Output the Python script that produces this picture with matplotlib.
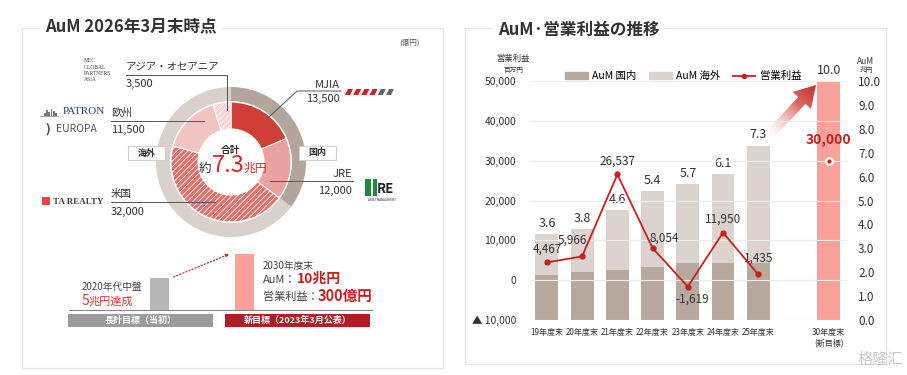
import matplotlib
matplotlib.use('Agg')
import matplotlib.pyplot as plt
import numpy as np
from matplotlib.patches import Rectangle, Polygon, Patch
from matplotlib.lines import Line2D

plt.rcParams['font.family'] = ['Noto Sans CJK JP', 'DejaVu Sans']
plt.rcParams['hatch.linewidth'] = 0.6
plt.rcParams['hatch.color'] = 'white'

# ---- data: AuM breakdown (億円) ----
regions = ['MJIA', 'JRE', '米国', '欧州', 'アジア・オセアニア']
region_values = [13500, 12000, 32000, 11500, 3500]
domestic_total = 13500 + 12000
overseas_total = 32000 + 11500 + 3500

# ---- data: AuM / operating profit history ----
years = ['19年度末', '20年度末', '21年度末', '22年度末', '23年度末', '24年度末', '25年度末']
aum_domestic = [1.9, 2.0, 2.1, 2.2, 2.4, 2.4, 2.4]   # 兆円
aum_total = [3.6, 3.8, 4.6, 5.4, 5.7, 6.1, 7.3]      # 兆円
profit = [4467, 5966, 26537, 8054, -1619, 11950, 1435]  # 百万円
target_label = '30年度末\n(新目標)'
target_aum = 10.0
target_profit = 30000

RED = '#c8201e'
DARK = '#333333'

fig = plt.figure(figsize=(9.07, 3.75), dpi=100)

# ================= donut =================
cx, cy, R = 231, 162, 75
axd = fig.add_axes([(cx - R) / 907, 1 - (cy + R) / 375, 2 * R / 907, 2 * R / 375])
axd.pie([domestic_total, overseas_total], startangle=90, counterclock=False, radius=1,
        colors=['#b3a59c', '#d9d1cc'], wedgeprops=dict(width=14 / 75, linewidth=0))
axd.pie(region_values, startangle=90, counterclock=False, radius=60 / 75,
        colors=['#cf3f37', '#eaa29e', '#e46d68', '#f2c3c0', '#f6d2cf'],
        hatch=['', '', '//////', '', '//////'],
        wedgeprops=dict(width=27 / 75, edgecolor='white', linewidth=0.8))
axd.set_xlim(-1, 1)
axd.set_ylim(-1, 1)
axd.axis('off')

# ================= right chart =================
ax = fig.add_axes([530 / 907, 1 - 320 / 375, 317 / 907, 239 / 375])
ax2 = ax.twinx()
x = np.arange(len(years))
aum_overseas = [t - d for t, d in zip(aum_total, aum_domestic)]
ax2.bar(x, aum_domestic, width=0.65, color='#b8a99f', zorder=2)
ax2.bar(x, aum_overseas, bottom=aum_domestic, width=0.65, color='#dcd3ce', zorder=2)
ax2.bar(8, target_aum, width=0.65, color='#fba19b', zorder=2)
for xi, t in zip(x, aum_total):
    ax2.annotate(f'{t:.1f}', (xi, t), xytext=(0, 3), textcoords='offset points',
                 ha='center', va='bottom', fontsize=9, color=DARK)
ax2.annotate(f'{target_aum:.1f}', (8, target_aum), xytext=(0, 3), textcoords='offset points',
             ha='center', va='bottom', fontsize=9, color=DARK)
ax2.set_ylim(0, 10)
ax2.set_yticks(np.arange(0, 11, 1))
ax2.set_yticklabels([f'{v:.1f}' for v in np.arange(0, 11, 1)], fontsize=8.5, color=DARK)

ax.set_zorder(ax2.get_zorder() + 1)
ax.patch.set_visible(False)
ax.plot(x, profit, color=RED, lw=1.3, marker='o', ms=3.5, zorder=4)
ax.plot(8, target_profit, marker='o', ms=5.5, mfc='white', mec='white', zorder=4)
ax.plot(8, target_profit, marker='o', ms=2, color=RED, zorder=5)
offsets = [(0, 9.4), (-7, 11.5), (0, 9.4), (8.6, 7.2), (3, -9), (0, 10), (0, 12)]
for xi, p, off in zip(x, profit, offsets):
    ax.annotate(f'{p:,}', (xi, p), xytext=off, textcoords='offset points',
                ha='center', va='center', fontsize=8.5, color=DARK)
ax.annotate(f'{target_profit:,}', (8, target_profit), xytext=(0, 15), textcoords='offset points',
            ha='center', va='center', fontsize=10, color=RED, fontweight='bold')

ax.set_ylim(-10000, 50000)
ax.set_xlim(-0.48, 8.52)
yt = np.arange(-10000, 50001, 10000)
ax.set_yticks(yt)
ax.set_yticklabels(['▲ 10,000' if v < 0 else f'{v:,}' for v in yt], fontsize=7.5, color=DARK)
ax.set_xticks(list(x) + [8])
ax.set_xticklabels(years + [target_label], fontsize=5.8, color=DARK)
ax.grid(axis='y', color='#ececec', lw=0.8)
for a in (ax, ax2):
    for s in a.spines.values():
        s.set_visible(False)
    a.tick_params(length=0)
ax.tick_params(axis='y', pad=10)
ax.tick_params(axis='x', pad=6)
ax2.tick_params(axis='y', pad=8)

handles = [Patch(color='#b8a99f', label='AuM 国内'), Patch(color='#dcd3ce', label='AuM 海外'),
           Line2D([], [], color=RED, lw=1.3, marker='o', ms=3, label='営業利益')]
fig.legend(handles=handles, loc='center', bbox_to_anchor=(683 / 907, 1 - 76 / 375), ncol=3,
           frameon=False, fontsize=7.5, handlelength=2.2, handleheight=0.6, columnspacing=1.2,
           handletextpad=0.4)

# ================= overlay (pixel coordinates) =================
ov = fig.add_axes([0, 0, 1, 1])
ov.set_xlim(0, 907)
ov.set_ylim(375, 0)
ov.axis('off')
ov.patch.set_visible(False)

# panel frames + titles
ov.add_patch(Rectangle((22, 28), 421, 340, fill=False, ec='#e3e3e3', lw=0.8))
ov.add_patch(Rectangle((465, 28), 421, 336, fill=False, ec='#e3e3e3', lw=0.8))
ov.text(45, 26, 'AuM 2026年3月末時点', fontsize=12, fontweight='bold', color=DARK,
        va='center', ha='left', bbox=dict(fc='white', ec='none', pad=4))
ov.text(498, 30, 'AuM·営業利益の推移', fontsize=12, fontweight='bold', color=DARK,
        va='center', ha='left', bbox=dict(fc='white', ec='none', pad=4))

# right panel axis headers
ov.text(513, 59, '営業利益', fontsize=6, ha='center', va='center', color=DARK)
ov.text(513, 70, '百万円', fontsize=4.8, ha='center', va='center', color=DARK)
ov.text(866, 61, 'AuM', fontsize=6, ha='center', va='center', color=DARK)
ov.text(866, 70, '兆円', fontsize=4.8, ha='center', va='center', color=DARK)

# gradient arrow (fades out toward the tail)
tail = np.array([768.0, 137.0])
tip = np.array([816.0, 85.0])
d = tip - tail
L = np.hypot(*d)
u = d / L
n = np.array([-u[1], u[0]])
neck = tail + u * (L - 21)
pts = [tail + n * 5, neck + n * 5, neck + n * 12.5, tip, neck - n * 12.5, neck - n * 5, tail - n * 5]
arrow = Polygon(pts, closed=True, fc='none', ec='none')
ov.add_patch(arrow)
xs = np.linspace(740, 835, 120)
ys = np.linspace(70, 160, 120)
XX, YY = np.meshgrid(xs, ys)
Z = np.clip(((XX - tail[0]) * u[0] + (YY - tail[1]) * u[1]) / L, 0, 1)
c0 = np.array([0.98, 0.82, 0.80])
c1 = np.array([0.78, 0.18, 0.16])
rgba = np.zeros(Z.shape + (4,))
rgba[..., :3] = c0 + (c1 - c0) * Z[..., None]
rgba[..., 3] = np.clip(Z * 1.6, 0, 1)
im = ov.imshow(rgba, extent=(740, 835, 160, 70), origin='upper', aspect='auto', zorder=3)
im.set_clip_path(arrow)
ov.set_xlim(0, 907)
ov.set_ylim(375, 0)

# donut centre
ov.text(231, 150, '合計', fontsize=7, fontweight='bold', ha='center', va='center', color=DARK)
ov.text(205, 172, '約', fontsize=9, ha='center', va='baseline', color=DARK)
ov.text(212, 172, '7.3', fontsize=17, ha='left', va='baseline', color='#d42a22')
ov.text(243, 172, '兆円', fontsize=8.5, ha='left', va='baseline', color='#d42a22')

# leader lines and labels
lc = '#555555'
ov.plot([126, 227, 227], [75, 75, 110], color=lc, lw=0.7)
ov.text(126, 67, regions[4], fontsize=7.5, ha='left', va='center', color=DARK)
ov.text(126, 84, f'{region_values[4]:,}', fontsize=8, ha='left', va='center', color=DARK)

ov.plot([268, 297, 341], [118, 91, 91], color=lc, lw=0.7)
ov.text(340, 85, regions[0], fontsize=8, ha='right', va='center', color=DARK)
ov.text(340, 99, f'{region_values[0]:,}', fontsize=8, ha='right', va='center', color=DARK)

ov.plot([111, 204], [121, 121], color=lc, lw=0.7)
ov.text(111, 113, regions[3], fontsize=7.5, ha='left', va='center', color=DARK)
ov.text(111, 130, f'{region_values[3]:,}', fontsize=8, ha='left', va='center', color=DARK)

ov.plot([270, 353], [181, 181], color=lc, lw=0.7)
ov.text(352, 174, regions[1], fontsize=8, ha='right', va='center', color=DARK)
ov.text(352, 191, f'{region_values[1]:,}', fontsize=8, ha='right', va='center', color=DARK)

ov.plot([111, 215], [202, 202], color=lc, lw=0.7)
ov.text(111, 194, regions[2], fontsize=7.5, ha='left', va='center', color=DARK)
ov.text(111, 212, f'{region_values[2]:,}', fontsize=8, ha='left', va='center', color=DARK)

for bx, lab in [(128, '海外'), (299, '国内')]:
    ov.add_patch(Rectangle((bx, 146), 37, 14, fc='white', ec='#cfcfcf', lw=0.8, zorder=3))
    ov.text(bx + 18.5, 153, lab, fontsize=6.5, fontweight='bold', ha='center', va='center',
            color=DARK, zorder=4)
ov.text(410, 43, '(億円)', fontsize=5.5, ha='center', va='center', color='#555555')

# logos (approximate)
for i, t in enumerate(['MEC', 'GLOBAL', 'PARTNERS', 'ASIA']):
    ov.text(84, 61 + i * 6.3, t, fontsize=4, family='Liberation Serif', ha='left', va='center',
            color='#444444')
for i in range(6):
    x0 = 345 + i * 8.2
    col = '#d21f26' if i < 4 else '#666666'
    ov.add_patch(Polygon([(x0, 95), (x0 + 5, 95), (x0 + 8, 89), (x0 + 3, 89)], fc=col, ec='none'))
for i, h in enumerate([3, 6, 4, 7, 5, 3]):
    ov.add_patch(Rectangle((44 + i * 2.2, 116 - h), 1.8, h, fc='#777777', ec='none'))
ov.plot([40, 58], [116, 116], color='#999999', lw=0.6)
ov.text(63, 111, 'PATRON', fontsize=8, family='Liberation Serif', ha='left', va='center',
        color='#2b3a7a')
ov.text(45, 129, ')', fontsize=9, fontweight='bold', ha='left', va='center', color='#444444')
ov.text(56, 129, 'EUROPA', fontsize=7.5, ha='left', va='center', color='#555555')
ov.add_patch(Rectangle((42, 197), 8, 8, fc='#e8474a', ec='none'))
ov.text(53, 201.5, 'TA REALTY', fontsize=6.5, family='Liberation Serif', fontweight='bold',
        ha='left', va='center', color='#444444')
ov.add_patch(Rectangle((365, 179), 6, 17, fc='#1f8a3b', ec='none'))
ov.add_patch(Rectangle((372.5, 179), 4.5, 17, fc='#1f8a3b', ec='none'))
ov.text(377, 189, 'RE', fontsize=9.5, fontweight='bold', ha='left', va='center', color='#222222')
ov.text(382, 200, 'ASSET MANAGEMENT', fontsize=2, ha='center', va='center', color='#222222')

# bottom target illustration
ov.plot([69, 372], [310, 310], color='#888888', lw=0.8)
ov.add_patch(Rectangle((150, 278), 19, 32, fc='#b7b7b7', ec='none'))
ov.add_patch(Rectangle((235, 254), 19, 56, fc='#fba19b', ec='none'))
ov.annotate('', xy=(232, 253), xytext=(171, 278),
            arrowprops=dict(arrowstyle='-|>', color='#c0302a', lw=0.9, ls=':', mutation_scale=5))
ov.text(82, 287, '2020年代中盤', fontsize=7, ha='left', va='center', color='#444444')
ov.text(82, 301, '5', fontsize=10, ha='left', va='center', color='#d63a32')
ov.text(89, 301.5, '兆円達成', fontsize=8, ha='left', va='center', color='#d63a32')
ov.text(263, 266, '2030年度末', fontsize=7, ha='left', va='center', color='#444444')
ov.text(263, 280, 'AuM：', fontsize=8, ha='left', va='center', color='#444444')
ov.text(297, 279, '10兆円', fontsize=10, fontweight='bold', ha='left', va='center', color=RED)
ov.text(263, 297, '営業利益：', fontsize=8, ha='left', va='center', color='#444444')
ov.text(318, 296, '300億円', fontsize=10.5, fontweight='bold', ha='left', va='center', color=RED)
ov.add_patch(Rectangle((68, 314), 145, 13, fc='#9b9b9b', ec='none'))
ov.text(140.5, 320.5, '長計目標（当初）', fontsize=6.5, fontweight='bold', ha='center', va='center',
        color='white')
ov.add_patch(Rectangle((225, 314), 145, 13, fc='#b01e23', ec='none'))
ov.text(297.5, 320.5, '新目標（2023年3月公表）', fontsize=6.5, fontweight='bold', ha='center',
        va='center', color='white')

# watermark
ov.text(880, 359, '格隆汇', fontsize=11, ha='center', va='center', color='#bbbbbb', alpha=0.8)

fig.savefig('out.png', dpi=100, facecolor='white')
